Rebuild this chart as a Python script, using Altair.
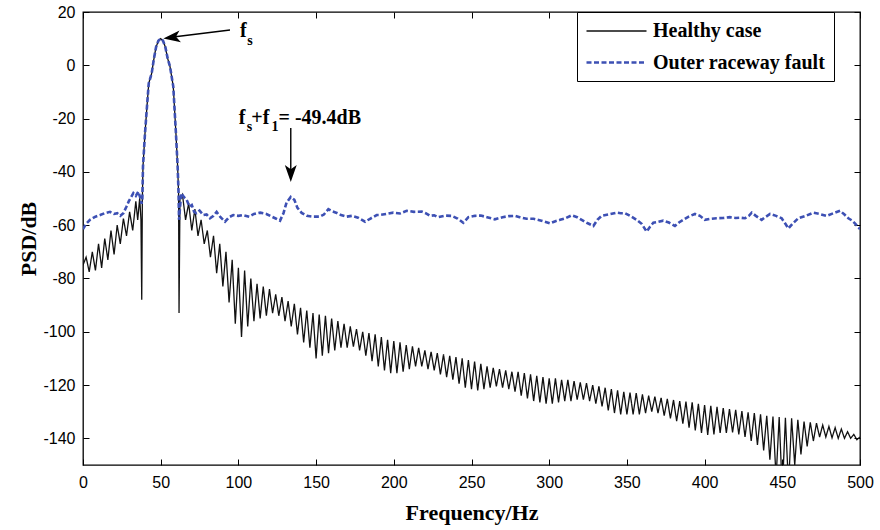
import altair as alt
import pandas as pd

series_names = ["Healthy case", "Outer raceway fault"]
series_colors = ["#111111", "#3d50b4"]

x_ticks = [0, 50, 100, 150, 200, 250, 300, 350, 400, 450, 500]
y_ticks = [20, 0, -20, -40, -60, -80, -100, -120, -140]

# Shared main lobe around f_s = 50 Hz
lobe_f = [38.2, 38.6, 39.9, 41.0, 42.3, 44.2, 45.5, 47.0, 48.5, 50.0, 51.5, 53.0, 54.5, 56.0, 58.1, 59.8, 60.9, 61.5]
lobe_db = [-50, -38, -25.5, -16.8, -6.8, -3, 2, 6.8, 9.2, 10, 9.2, 6.8, 2.5, -0.5, -8, -25.5, -38, -48]

# Healthy case: below the main lobe
healthy_low_f = [0, 2, 4, 6, 8, 10, 12, 14, 16, 18, 20, 22, 24, 26, 28, 30, 32, 34, 35.2, 36.5, 37.3, 37.8]
healthy_low_db = [-75, -72, -77.5, -70, -77, -67, -76, -65, -73, -62, -71, -60, -67, -57.5, -64, -55,
                  -62, -51, -58, -49.8, -58, -88]
healthy_mid_f = [61.8, 62.4]
healthy_mid_db = [-93, -50]

# Healthy case above the main lobe: ripple peaks (64, 68, ... 500 Hz) and troughs (66, 70, ... 498 Hz)
healthy_peaks = [-48.5, -51.8, -54, -58, -62, -64, -67, -70, -73, -76,
                 -77, -80, -82, -83, -84, -86, -87, -88.5, -89.5, -91,
                 -92, -93, -93.5, -94, -95, -96, -97, -98, -99, -100,
                 -100.5, -101, -102, -103, -103.5, -104, -105, -105.5, -106, -107,
                 -107.5, -108, -108.5, -109, -109.5, -110, -110.6, -111.2, -112, -113,
                 -113.5, -114, -114.5, -115, -115, -115.5, -116, -116.5, -117, -117.5,
                 -117.5, -118, -118, -118.5, -119, -119.3, -120, -120.5, -121, -121.5,
                 -122, -122.5, -122.8, -123, -123.5, -124, -124.3, -124.8, -125.2, -125.6,
                 -126, -126.2, -126.5, -127, -127.5, -127.8, -128.2, -128.6, -129, -129.3,
                 -129.8, -130.2, -130.5, -131, -131.5, -131.8, -132, -132.3, -132.5, -133,
                 -133.7, -134, -134.3, -135, -135.5, -136, -136.5, -137.5, -138.5, -139.5]
healthy_troughs = [-58, -62, -64, -67, -72, -78, -83, -89, -97, -102,
                   -98, -96, -95, -94, -93, -94, -96, -98, -101, -104,
                   -106, -110, -109, -108, -107, -106, -106, -105.6, -107, -109,
                   -111, -113, -114.5, -115.5, -115.5, -115, -114, -113, -113, -114,
                   -114.5, -116, -117, -118, -119.5, -121, -121.5, -122, -121.5, -121,
                   -120.5, -121, -121.5, -122.5, -124, -125, -126, -126.5, -127, -127,
                   -126.5, -126, -126, -125.5, -125.5, -126, -127, -128, -129.5, -130.5,
                   -131, -131, -131, -131, -130.5, -130, -130.5, -131.5, -132.5, -133.5,
                   -134.5, -136, -137, -138, -138.7, -138.5, -138, -138, -137.8, -138.5,
                   -139.5, -141, -142.5, -144.5, -148, -155, -160, -158, -150, -146,
                   -143, -141, -139.5, -139.5, -139.8, -140, -140, -140, -140.5]

# Outer raceway fault
fault_low_f = [0, 2, 4.5, 8, 11, 14, 17.4, 20, 22, 24, 26, 28, 29.5, 32.4, 34, 35.6, 37, 37.7]
fault_low_db = [-61.5, -59.5, -58, -56.8, -56.2, -55.5, -55, -55.8, -55.5, -56.5, -55.5, -53, -51,
                -48, -49, -47.4, -50, -52]
fault_high_f = [61.8, 63.2, 65, 66.7, 68.5, 70, 71.5, 73, 75, 77.4, 79.5, 81.7, 84, 86, 88.5, 91.4, 94,
                96.7, 100, 103, 107, 110, 114, 118, 121.4, 124, 126.8, 129, 131, 133.7, 136, 138, 140.7,
                144, 148.2, 152.5, 155, 157.9, 160.5, 163.3, 166, 169.7, 173, 177, 181.5, 185, 189, 191,
                195, 199.7, 204, 208.3, 213, 218, 220.5, 223.3, 226, 228.6, 233, 237.2, 241, 244.7, 248,
                252.2, 256, 260, 265, 270, 274, 278, 281, 285.5, 290, 295, 300.5, 304, 307, 310, 314.4,
                318, 320.9, 324.5, 328.4, 331, 333.7, 338, 343.4, 346, 348.7, 352, 356.3, 359.5, 362.7,
                365, 367, 370, 373.4, 377, 380.9, 383.5, 386.3, 390, 393.8, 397, 400.2, 404, 407.7, 412,
                416.3, 420, 423, 426, 428.5, 430.3, 433, 436.7, 439, 442.1, 446, 449.6, 452, 453.9, 456.5,
                460.3, 465, 470, 474, 478.6, 483, 487.2, 490, 492.5, 495, 497, 500]
fault_high_db = [-58, -48, -49.5, -50.5, -53, -52.4, -55, -55.5, -54.5, -56.2, -56, -57.4, -56.5, -55,
                 -57, -58.7, -57, -56.2, -56.5, -56.2, -56.8, -55.8, -55.3, -55.8, -56.8, -57.5, -58.3,
                 -55.5, -51.5, -49.4, -50.5, -53.5, -55.4, -56.5, -56.8, -56.8, -56, -54, -54.8, -55.4,
                 -56.2, -56.8, -56.5, -57.2, -58.7, -57.5, -56.2, -56.2, -55.8, -55.3, -55.6, -54.6, -55,
                 -54.9, -55.5, -56.5, -56.3, -57, -56.4, -56.5, -57.5, -59.1, -57, -56.5, -56.4, -57,
                 -57.8, -57, -56.6, -56.5, -57, -57.6, -57.6, -58.3, -59.3, -58.5, -58, -57.5, -56.3,
                 -57, -58, -59.2, -60.3, -58, -56.5, -56, -55.3, -55.5, -55.5, -56.5, -58, -59.5, -62.4,
                 -60.5, -59.1, -58.8, -58.3, -59, -60.3, -59, -58, -56.7, -55.8, -56.5, -58, -57.6, -57.4,
                 -57.3, -57, -57.3, -57.2, -57.4, -56.5, -55.3, -56.5, -58, -57, -55.8, -56.5, -57.4,
                 -59.5, -61.2, -59.5, -57.4, -56.5, -55.3, -55.8, -56.5, -55.5, -54.6, -56, -57.4, -58.3,
                 -59.5, -61.5]

# Annotations
main_txt = ["f", "+f", "= -49.4dB", "f"]
main_x = [100.2, 108.3, 125.8, 101.0]
main_y = [-22.0, -22.0, -22.0, 10.8]
sub_txt = ["s", "1", "s"]
sub_x = [105.3, 121.3, 105.7]
sub_y = [-24.7, -24.7, 7.6]
arrow_x = [94.6, 133.7]
arrow_y = [13.25, -23.5]
arrow_x2 = [58.0, 133.7]
arrow_y2 = [10.6, -39.5]
head_x = [51.7, 133.7]
head_y = [10.1, -43.8]
head_angle = [263, 180]

# ---- build tables ----
h_f, h_db = [], []
h_f += healthy_low_f; h_db += healthy_low_db
h_f += lobe_f; h_db += lobe_db
h_f += healthy_mid_f; h_db += healthy_mid_db
for i, p in enumerate(healthy_peaks):
    h_f.append(64 + 4 * i); h_db.append(p)
    if i < len(healthy_troughs):
        h_f.append(66 + 4 * i); h_db.append(healthy_troughs[i])

f_f = fault_low_f + lobe_f + fault_high_f
f_db = fault_low_db + lobe_db + fault_high_db

df = pd.DataFrame({
    "f": h_f + f_f,
    "db": h_db + f_db,
    "series": [series_names[0]] * len(h_f) + [series_names[1]] * len(f_f),
})
main_df = pd.DataFrame({"t": main_txt, "f": main_x, "db": main_y})
sub_df = pd.DataFrame({"t": sub_txt, "f": sub_x, "db": sub_y})
arrow_df = pd.DataFrame({"f": arrow_x, "db": arrow_y, "f2": arrow_x2, "db2": arrow_y2})
head_df = pd.DataFrame({"f": head_x, "db": head_y, "ang": head_angle})

xscale = alt.Scale(domain=[0, 500], nice=False, zero=False)
yscale = alt.Scale(domain=[-150, 20], nice=False, zero=False)

SERIF = "Liberation Serif"
SANS = "Liberation Sans"
PLAIN_LABEL = "'' + datum.value"

x_bottom = alt.Axis(orient="bottom", values=x_ticks, tickSize=6, offset=-6, domain=False, grid=False,
                    labelFont=SANS, labelFontSize=16, labelColor="black", labelPadding=9,
                    tickColor="black", labelFlush=False, labelExpr=PLAIN_LABEL,
                    titleFont=SERIF, titleFontSize=22, titleFontWeight="bold", titleColor="black",
                    titleX=388.5, titleY=60, titleAlign="center", titleBaseline="alphabetic")
y_left = alt.Axis(orient="left", values=y_ticks, tickSize=6, offset=-6, domain=False, grid=False,
                  labelFont=SANS, labelFontSize=16, labelColor="black", labelPadding=8,
                  tickColor="black", labelFlush=False, labelExpr=PLAIN_LABEL,
                  titleFont=SERIF, titleFontSize=22, titleFontWeight="bold", titleColor="black",
                  titleX=-54, titleY=226.5, titleAngle=270, titleAlign="center",
                  titleBaseline="alphabetic")
x_top = alt.Axis(orient="top", values=x_ticks, tickSize=6, offset=-6, domain=False, grid=False,
                 labels=False, tickColor="black")
y_right = alt.Axis(orient="right", values=y_ticks, tickSize=6, offset=-6, domain=False, grid=False,
                   labels=False, tickColor="black")

lines = alt.Chart(df).mark_line(clip=True, interpolate="linear").encode(
    x=alt.X("f:Q", scale=xscale, axis=x_bottom, title="Frequency/Hz"),
    y=alt.Y("db:Q", scale=yscale, axis=y_left, title="PSD/dB"),
    color=alt.Color("series:N", scale=alt.Scale(domain=series_names, range=series_colors),
                    legend=alt.Legend(title=None)),
    strokeDash=alt.StrokeDash("series:N", scale=alt.Scale(domain=series_names, range=[[1, 0], [5, 2.5]]),
                              legend=alt.Legend(title=None)),
    strokeWidth=alt.StrokeWidth("series:N", scale=alt.Scale(domain=series_names, range=[1.3, 2.6]),
                                legend=None),
)

frame = alt.Chart(df).mark_line(opacity=0).encode(
    x=alt.X("f:Q", scale=xscale, axis=x_top, title=None),
    y=alt.Y("db:Q", scale=yscale, axis=y_right, title=None),
)

rules = alt.Chart(arrow_df).mark_rule(color="black", strokeWidth=1.4).encode(
    x=alt.X("f:Q", scale=xscale, axis=None), x2="f2:Q",
    y=alt.Y("db:Q", scale=yscale, axis=None), y2="db2:Q",
)

heads = alt.Chart(head_df).mark_point(
    shape="M0,0 L0.35,1 L0,0.75 L-0.35,1 Z", filled=True, color="black", opacity=1, size=1156,
).encode(
    x=alt.X("f:Q", scale=xscale, axis=None),
    y=alt.Y("db:Q", scale=yscale, axis=None),
    angle=alt.Angle("ang:Q", scale=None),
)

main_text = alt.Chart(main_df).mark_text(
    font=SERIF, fontWeight="bold", fontSize=20, align="left", baseline="alphabetic", color="black",
).encode(
    x=alt.X("f:Q", scale=xscale, axis=None),
    y=alt.Y("db:Q", scale=yscale, axis=None),
    text="t:N",
)
sub_text = alt.Chart(sub_df).mark_text(
    font=SERIF, fontWeight="bold", fontSize=14, align="left", baseline="alphabetic", color="black",
).encode(
    x=alt.X("f:Q", scale=xscale, axis=None),
    y=alt.Y("db:Q", scale=yscale, axis=None),
    text="t:N",
)

chart = alt.layer(lines, frame, rules, heads, main_text, sub_text).resolve_axis(
    x="independent", y="independent"
).properties(
    width=777, height=453,
    autosize=alt.AutoSizeParams(type="none"),
    padding={"left": 83, "top": 12, "right": 20, "bottom": 65},
    background="white",
).configure_view(
    stroke="black", strokeWidth=1.3,
).configure_legend(
    orient="none", legendX=494, legendY=0, padding=8, rowPadding=10,
    strokeColor="black", fillColor="white", cornerRadius=0, labelLimit=400,
    labelFont=SERIF, labelFontWeight="bold", labelFontSize=20, labelColor="black",
    symbolType="M-1,0H5", symbolSize=400, symbolStrokeWidth=2, labelOffset=45,
)

chart.save("out.html", embed_options={"renderer": "svg", "actions": False})
